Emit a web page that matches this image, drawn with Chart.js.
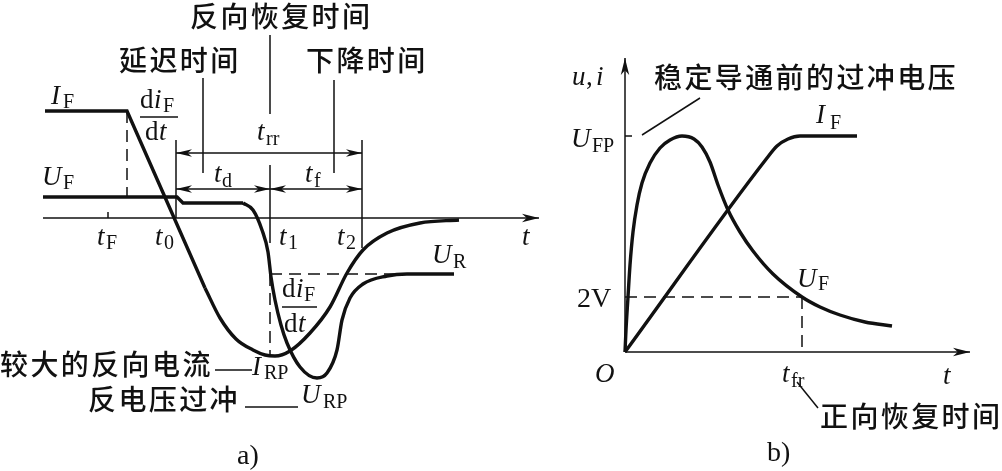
<!DOCTYPE html>
<html><head><meta charset="utf-8">
<script src="https://cdn.jsdelivr.net/npm/chart.js@4.4.1/dist/chart.umd.min.js"></script>
<style>
html,body{margin:0;padding:0;background:#fff}
body{width:1002px;height:471px;overflow:hidden;position:relative}
canvas{position:absolute;top:0}
svg{position:absolute;left:0;top:0}
.cn{font-family:"Noto Sans CJK SC";font-weight:500;font-size:28px;letter-spacing:2.4px;fill:#111}
.it{font-family:"Liberation Serif";font-style:italic;font-size:27px;fill:#111}
.rm{font-family:"Liberation Serif";font-size:27px;fill:#111}
.sb{font-family:"Liberation Serif";font-size:20px;fill:#111}
</style></head>
<body>
<canvas id="ca" width="555" height="471" style="left:0"></canvas>
<canvas id="cb" width="447" height="471" style="left:555px"></canvas>
<svg width="1002" height="471">
  <!-- panel a -->
  <text class="cn" x="190" y="27">反向恢复时间</text>
  <text class="cn" x="119" y="71">延迟时间</text>
  <text class="cn" x="306" y="71">下降时间</text>
  <text class="it" x="51" y="104">I</text><text class="sb" x="63" y="108">F</text>
  <text class="it" x="42" y="185">U</text><text class="sb" x="63" y="189">F</text>
  <text class="rm" x="140" y="108">d</text><text class="it" x="154" y="108">i</text><text class="sb" x="163" y="112">F</text>
  <line x1="140" y1="117" x2="178" y2="117" stroke="#111" stroke-width="1.5"/>
  <text class="rm" x="145" y="140">d</text><text class="it" x="159" y="140">t</text>
  <text class="it" x="257" y="140">t</text><text class="sb" x="266" y="145">rr</text>
  <text class="it" x="214" y="182">t</text><text class="sb" x="222" y="187">d</text>
  <text class="it" x="305" y="182">t</text><text class="sb" x="314" y="187">f</text>
  <text class="it" x="97" y="245">t</text><text class="sb" x="106" y="249">F</text>
  <text class="it" x="155" y="245">t</text><text class="sb" x="164" y="249">0</text>
  <text class="it" x="279" y="245">t</text><text class="sb" x="288" y="249">1</text>
  <text class="it" x="337" y="245">t</text><text class="sb" x="346" y="249">2</text>
  <text class="it" x="522" y="245">t</text>
  <text class="it" x="432" y="263">U</text><text class="sb" x="453" y="268">R</text>
  <text class="rm" x="282" y="297">d</text><text class="it" x="296" y="297">i</text><text class="sb" x="304" y="301">F</text>
  <line x1="282" y1="307" x2="317" y2="307" stroke="#111" stroke-width="1.5"/>
  <text class="rm" x="284" y="332">d</text><text class="it" x="298" y="332">t</text>
  <text class="cn" x="0" y="375">较大的反向电流</text>
  <text class="it" x="252" y="375">I</text><text class="sb" x="264" y="379">RP</text>
  <text class="cn" x="88" y="410">反电压过冲</text>
  <text class="it" x="301" y="403">U</text><text class="sb" x="323" y="408">RP</text>
  <text class="rm" x="237" y="464" style="font-size:28px">a)</text>
  <!-- panel b -->
  <text class="it" x="572" y="85">u</text><text class="rm" x="586" y="85">,</text><text class="it" x="596" y="85">i</text>
  <text class="cn" x="654" y="88">稳定导通前的过冲电压</text>
  <text class="it" x="571" y="147">U</text><text class="sb" x="592" y="152">FP</text>
  <text class="it" x="816" y="123">I</text><text class="sb" x="830" y="129">F</text>
  <text class="it" x="797" y="287">U</text><text class="sb" x="818" y="290">F</text>
  <text class="rm" x="577" y="307" style="font-size:28px">2V</text>
  <text class="it" x="595" y="382">O</text>
  <text class="it" x="782" y="382">t</text><text class="sb" x="791" y="387">fr</text>
  <text class="it" x="943" y="384">t</text>
  <text class="cn" x="820" y="427">正向恢复时间</text>
  <text class="rm" x="767" y="461" style="font-size:28px">b)</text>
</svg>
<script>
// ---------- panel a): diode reverse recovery (x: time units, y: amplitude units) ----------
const iF_a_ramp  = [[0.2,10.7],[8.4,10.7],[16.2,-7.0]];
const iF_a_tail  = [[16.2,-7.0],[17.7,-10.0],[19.3,-12.1],[21.0,-13.2],[22.2,-13.7],[23.2,-13.8],
                    [24.7,-13.3],[26.7,-11.5],[28.7,-8.9],[30.4,-5.5],[32.0,-3.2],[34.4,-1.5],[37.7,-0.5],[41.6,-0.2]];
const uF_a_step  = [[0,2.1],[13.4,2.1],[14.0,1.5],[20.0,1.5]];
const uF_a_tail  = [[20.0,1.5],[21.0,0.8],[21.9,-1.2],[22.5,-3.4],[22.8,-5.9],[23.2,-8.2],[23.8,-10.7],
                    [24.4,-12.5],[25.7,-14.9],[27.4,-16.0],[28.4,-15.5],[29.4,-13.2],[29.9,-10.2],
                    [30.7,-8.0],[32.0,-6.6],[34.4,-5.8],[36.4,-5.6],[41.1,-5.6]];
const timeMarks_a = [6.5, 13.3, 22.7, 31.9];        // tF, t0, t1, t2
const levels_a    = [10.7, 2.1, -5.6, -13.8];       // IF, UF, UR, IRP
// ---------- panel b): forward recovery ----------
const uF_b = [[0,0],[0.1,2.2],[0.3,5.5],[0.5,8.7],[0.8,12.0],[1.2,14.7],[1.7,16.9],[2.5,18.9],[3.5,20.4],
              [4.5,21.2],[5.7,21.6],[6.9,21.3],[7.7,20.5],[8.5,19.0],[9.3,16.7],[10.3,14.2],[11.5,12.0],
              [12.8,10.1],[14.8,7.8],[17.7,5.5],[19.5,4.5],[21.5,3.7],[24.0,3.0],[26.7,2.6]];
const iF_b = [[0,0],[14.2,19.4],[15.2,20.6],[16.3,21.3],[17.5,21.6],[23.2,21.6]];
const marks_b = [17.7, 5.5, 21.6];                  // tfr, 2V level, UFP level

const K = '#111';
const P = a => a.map(([x,y]) => ({x, y}));
function seg(d, w, dash){ return {data:P(d), showLine:true, borderColor:K, borderWidth:w, borderDash:dash||[],
  pointRadius:0, tension:0, fill:false, borderCapStyle:'butt', borderJoinStyle:'miter'}; }
function thick(d){ return seg(d, 3.4); }
function smooth(d){ const o = seg(d, 3.4); o.cubicInterpolationMode = 'monotone'; o.borderJoinStyle='round'; return o; }
const TH = 1.5, DASH = [12, 7];

const arrowPlugin = {
  id: 'arrows',
  afterDatasetsDraw(chart, args, opts){
    const {ctx} = chart, sx = chart.scales.x, sy = chart.scales.y;
    ctx.save(); ctx.fillStyle = K;
    for (const [x, y, dir, big] of opts.list) {
      const px = sx.getPixelForValue(x), py = sy.getPixelForValue(y);
      const ang = {R:0, L:Math.PI, U:-Math.PI/2}[dir];
      const len = big ? 17 : 16, hw = big ? 4.2 : 3.8;
      ctx.save(); ctx.translate(px, py); ctx.rotate(ang);
      ctx.beginPath(); ctx.moveTo(0,0); ctx.lineTo(-len,-hw); ctx.lineTo(-len*0.72,0); ctx.lineTo(-len,hw);
      ctx.closePath(); ctx.fill(); ctx.restore();
    }
    ctx.restore();
  }
};

function opts(xmin, xmax, ymin, ymax, arrows){
  return {responsive:false, animation:false, events:[], layout:{padding:0},
    scales:{x:{type:'linear', min:xmin, max:xmax, display:false}, y:{type:'linear', min:ymin, max:ymax, display:false}},
    plugins:{legend:{display:false}, tooltip:{enabled:false}, arrows:{list:arrows}}};
}

const [tF, t0, t1, t2] = timeMarks_a;
const [lIF, lUF, lUR, lIRP] = levels_a;
new Chart(document.getElementById('ca'), {
  type:'scatter',
  data:{datasets:[
    seg([[0,0],[49.6,0]], TH),                       // t axis
    seg([[tF,0],[tF,0.6]], TH),                      // tF tick
    seg([[8.4,lIF],[8.4,lUF]], TH, DASH),
    seg([[t0,7.8],[t0,0]], TH),
    seg([[16.0,14.0],[16.0,4.5]], TH),               // 延迟时间 leader
    seg([[t1,18.3],[t1,10.4]], TH),                  // 反向恢复时间 leader
    seg([[29.1,13.8],[29.1,4.5]], TH),               // 下降时间 leader
    seg([[t1,5.3],[t1,-2.5]], TH),
    seg([[t2,7.8],[t2,-3.0]], TH),
    seg([[t0,6.5],[t2,6.5]], TH),                    // trr
    seg([[t0,2.9],[t2,2.9]], TH),                    // td / tf
    seg([[t1,lUR],[36.2,lUR]], TH, DASH),
    seg([[t1,lUR],[t1,lIRP]], TH, DASH),
    seg([[17.2,-15.2],[20.9,-15.2]], TH),            // IRP leader
    seg([[20.2,-18.9],[25.5,-18.9]], TH),            // URP leader
    thick(iF_a_ramp), smooth(iF_a_tail),
    thick(uF_a_step), smooth(uF_a_tail)
  ]},
  options: opts(-4.3, 51.2, -25.3, 21.8,
    [[49.6,0,'R',1],[t0,6.5,'L'],[t2,6.5,'R'],[t0,2.9,'L'],[t1,2.9,'R'],[t1,2.9,'L'],[t2,2.9,'R']]),
  plugins:[arrowPlugin]
});

const [tfr, v2, uFP] = marks_b;
new Chart(document.getElementById('cb'), {
  type:'scatter',
  data:{datasets:[
    seg([[0,0],[0,29.4]], TH),
    seg([[0,0],[34.5,0]], TH),
    seg([[0,uFP],[0.7,uFP]], TH),
    seg([[1.7,21.7],[7.5,25.4]], TH),
    seg([[0,v2],[tfr,v2]], TH, DASH),
    seg([[tfr,v2],[tfr,0]], TH, DASH),
    seg([[17.2,-3.0],[19.3,-5.6]], TH),
    smooth(uF_b), smooth(iF_b)
  ]},
  options: opts(-7.0, 37.7, -11.9, 35.2, [[0,29.4,'U',1],[34.5,0,'R',1]]),
  plugins:[arrowPlugin]
});
</script>
</body></html>
